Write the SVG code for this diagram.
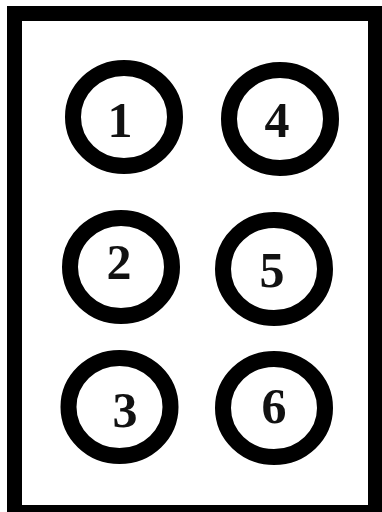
<svg xmlns="http://www.w3.org/2000/svg" width="382" height="512" viewBox="0 0 382 512">
<style>
.frame{fill:#fff;stroke:#000;stroke-width:15}
.ring{fill:#fff;stroke:#000;stroke-width:16}
.num{font-family:"Liberation Serif","Times New Roman",serif;font-weight:bold;font-size:50px;fill:#111;text-anchor:middle}
</style>
<rect x="0" y="0" width="382" height="512" fill="#fff"/>
<rect class="frame" x="14.5" y="13.5" width="361" height="499"/>
<g id="connectors"></g>
<g id="node1"><ellipse class="ring" cx="124" cy="117" rx="51" ry="49"/><text class="num" x="120" y="137">1</text></g>
<g id="node4"><ellipse class="ring" cx="280" cy="119" rx="51" ry="49"/><text class="num" x="277" y="137">4</text></g>
<g id="node2"><ellipse class="ring" cx="121" cy="267" rx="51" ry="49"/><text class="num" x="119" y="279">2</text></g>
<g id="node5"><ellipse class="ring" cx="274" cy="269" rx="51" ry="49"/><text class="num" x="272" y="287">5</text></g>
<g id="node3"><ellipse class="ring" cx="119.5" cy="407" rx="51" ry="49"/><text class="num" x="125" y="427">3</text></g>
<g id="node6"><ellipse class="ring" cx="274" cy="408" rx="51" ry="49"/><text class="num" x="274" y="423">6</text></g>
</svg>
